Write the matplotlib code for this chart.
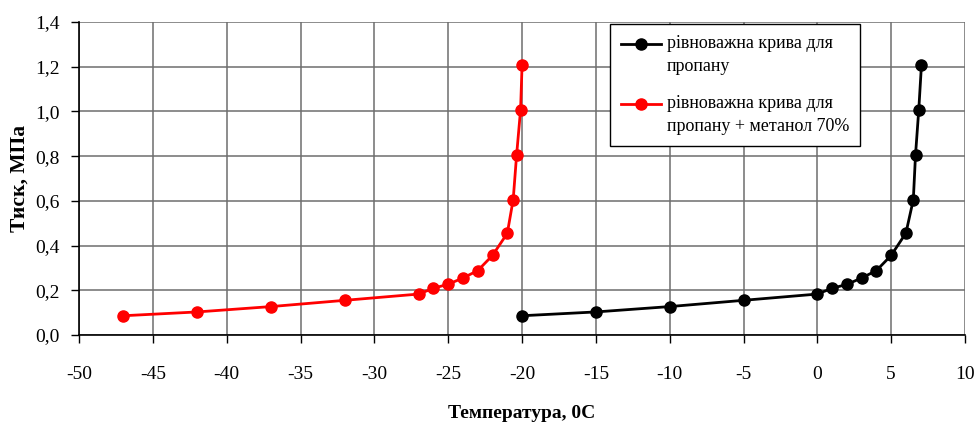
import matplotlib.pyplot as plt
import matplotlib.transforms as mtransforms
from matplotlib.legend_handler import HandlerLine2D
from matplotlib.ticker import FuncFormatter, MultipleLocator

# рівноважна крива для пропану
temp_propane = [-20, -15, -10, -5, 0, 1, 2, 3, 4, 5, 6, 6.5, 6.65, 6.87, 7.05]
press_propane = [0.086, 0.103, 0.127, 0.155, 0.183, 0.209, 0.226, 0.255, 0.288, 0.356, 0.456, 0.605, 0.806, 1.008, 1.206]

# рівноважна крива для пропану + метанол 70%
temp_methanol = [-47, -42, -37, -32, -27, -26, -25, -24, -23, -22, -21, -20.6, -20.37, -20.1, -20.0]
press_methanol = [0.086, 0.103, 0.127, 0.155, 0.183, 0.209, 0.227, 0.255, 0.288, 0.356, 0.455, 0.606, 0.805, 1.008, 1.206]

plt.rcParams['font.family'] = ['Liberation Serif', 'DejaVu Serif']


class FirstLineHandler(HandlerLine2D):
    # put the legend marker next to the first line of a two-line label
    def create_artists(self, legend, orig_handle, xdescent, ydescent, width, height, fontsize, trans):
        arts = super().create_artists(legend, orig_handle, xdescent, ydescent,
                                      width, height, fontsize, trans)
        shift = mtransforms.Affine2D().translate(0, fontsize * 0.62)
        for a in arts:
            a.set_transform(shift + trans)
        return arts


fig = plt.figure(figsize=(9.77, 4.24), dpi=100)
ax = fig.add_axes([0.081, 0.21, 0.9067, 0.738])

l1, = ax.plot(temp_propane, press_propane, color='black', lw=2, marker='o', ms=8,
              label='рівноважна крива для\nпропану', clip_on=False, zorder=3)
l2, = ax.plot(temp_methanol, press_methanol, color='#ff0000', lw=2, marker='o', ms=8,
              label='рівноважна крива для\nпропану + метанол 70%', clip_on=False, zorder=3)

ax.set_xlim(-50, 10)
ax.set_ylim(0, 1.4)
ax.xaxis.set_major_locator(MultipleLocator(5))
ax.yaxis.set_major_locator(MultipleLocator(0.2))
ax.yaxis.set_major_formatter(FuncFormatter(lambda v, p: f'{v:.1f}'.replace('.', ',')))
ax.xaxis.set_major_formatter(FuncFormatter(lambda v, p: f'{v:g}'))

ax.grid(True, color='#6e6e6e', lw=1.1)
ax.set_axisbelow(True)
for s in ['top', 'right']:
    ax.spines[s].set_visible(False)
for s in ['left', 'bottom']:
    ax.spines[s].set_linewidth(1.2)
    ax.spines[s].set_zorder(2)
ax.tick_params(direction='out', length=6, width=1, labelsize=14, pad=8)
ax.tick_params(axis='x', pad=16)

ax.set_xlabel('Температура, 0С', fontsize=14, fontweight='bold', labelpad=16)
ax.set_ylabel('Тиск, МПа', fontsize=15.5, fontweight='bold', labelpad=4)

leg = ax.legend(handler_map={l1: FirstLineHandler(), l2: FirstLineHandler()},
                loc='upper left', bbox_to_anchor=(610 / 977, 1 - 24 / 424),
                bbox_transform=fig.transFigure, borderaxespad=0, fontsize=13,
                frameon=True, fancybox=False, edgecolor='black', framealpha=1,
                handlelength=2.2, labelspacing=1.15, borderpad=0.6, handletextpad=0.35)
leg.get_frame().set_linewidth(1)
for t in leg.get_texts():
    t.set_linespacing(1.45)

fig.savefig('out.png', dpi=100)
